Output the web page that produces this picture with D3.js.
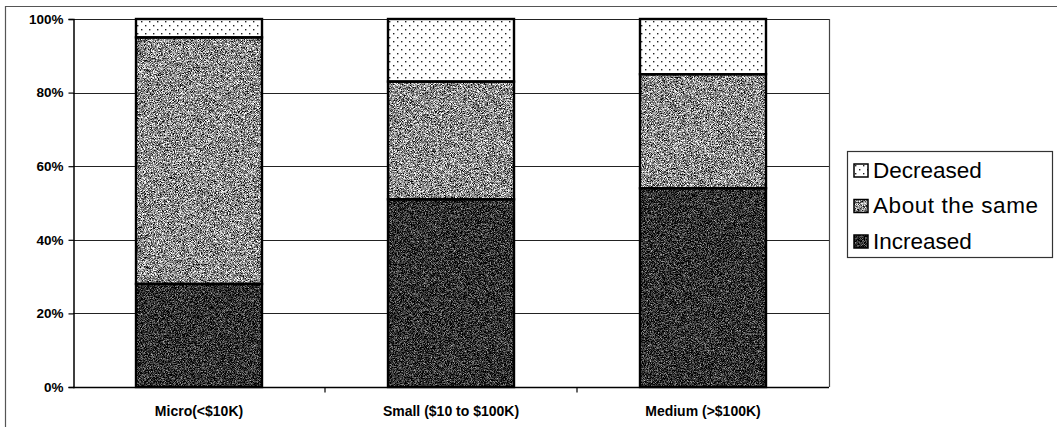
<!DOCTYPE html>
<html>
<head>
<meta charset="utf-8">
<script src="https://cdn.jsdelivr.net/npm/d3@7"></script>
<style>
  html, body { margin: 0; padding: 0; background: #fff; }
  svg { display: block; }
  text { font-family: "Liberation Sans", Arial, sans-serif; fill: #000; }
</style>
</head>
<body>
<svg id="chart" width="1057" height="427"></svg>
<script>
// Business size groups and share of responses in each (percent)
const categories = ["Micro(<$10K)", "Small ($10 to $100K)", "Medium (>$100K)"];
const seriesNames = ["Increased", "About the same", "Decreased"];
const increased = [28, 51, 54];
const aboutSame = [67, 32, 31];
const decreased = [5, 17, 15];
const yTicks = [0, 20, 40, 60, 80, 100];

const svg = d3.select("#chart");
const W = 1057, H = 427;
const plot = { left: 73, right: 829, top: 19, bottom: 387 };

// textures: dotted for "Decreased", speckled greys for the others
const defs = svg.append("defs");
const dots = defs.append("pattern").attr("id", "dots")
  .attr("patternUnits", "userSpaceOnUse").attr("width", 8).attr("height", 8);
dots.append("rect").attr("width", 8).attr("height", 8).attr("fill", "#fff");
dots.append("rect").attr("x", 1).attr("y", 1).attr("width", 1.4).attr("height", 1.4).attr("fill", "#222");
dots.append("rect").attr("x", 5).attr("y", 5).attr("width", 1.4).attr("height", 1.4).attr("fill", "#222");

function speckle(id, base, k) {
  const f = defs.append("filter").attr("id", id)
    .attr("filterUnits", "objectBoundingBox")
    .attr("color-interpolation-filters", "sRGB")
    .attr("x", 0).attr("y", 0).attr("width", 1).attr("height", 1);
  f.append("feTurbulence").attr("type", "fractalNoise")
    .attr("baseFrequency", 1.3).attr("numOctaves", 2).attr("seed", 7).attr("result", "noise");
  const off = base - k * 0.5;
  f.append("feColorMatrix").attr("in", "noise").attr("type", "matrix")
    .attr("values", `${k} 0 0 0 ${off}  ${k} 0 0 0 ${off}  ${k} 0 0 0 ${off}  0 0 0 0 1`)
    .attr("result", "grain");
  f.append("feComposite").attr("in", "grain").attr("in2", "SourceGraphic").attr("operator", "in");
}
speckle("speckLight", 0.55, 2.4);
speckle("speckDark", 0.19, 1.6);

const fills = {
  "Increased": { fill: "#333", filter: "url(#speckDark)" },
  "About the same": { fill: "#8f8f8f", filter: "url(#speckLight)" },
  "Decreased": { fill: "url(#dots)", filter: null }
};

// outer chart frame
svg.append("path").attr("d", `M5.5,${H} V6.5 H${W}`)
  .attr("fill", "none").attr("stroke", "#555").attr("stroke-width", 1.2);

const x = d3.scaleBand().domain(categories).range([plot.left, plot.right]).paddingInner(0.5).paddingOuter(0.25);
const y = d3.scaleLinear().domain([0, 100]).range([plot.bottom, plot.top]);

// gridlines
svg.append("g").selectAll("line").data(yTicks.filter(t => t > 0)).join("line")
  .attr("x1", plot.left).attr("x2", plot.right)
  .attr("y1", d => Math.round(y(d)) + 0.5).attr("y2", d => Math.round(y(d)) + 0.5)
  .attr("stroke", "#222").attr("stroke-width", 1);

// plot area right edge
svg.append("line").attr("x1", plot.right + 0.5).attr("x2", plot.right + 0.5)
  .attr("y1", plot.top).attr("y2", plot.bottom).attr("stroke", "#444").attr("stroke-width", 1.2);

// stacked bars: textured fill, then the outline on top
const rows = categories.map((c, i) => ({ cat: c, "Increased": increased[i], "About the same": aboutSame[i], "Decreased": decreased[i] }));
const stack = d3.stack().keys(seriesNames)(rows);
const segs = stack.flatMap(layer => layer.map(v => ({ key: layer.key, v })));
const bars = svg.append("g");
bars.selectAll("rect.fill").data(segs).join("rect").attr("class", "fill")
  .attr("x", d => x(d.v.data.cat))
  .attr("width", x.bandwidth())
  .attr("y", d => y(d.v[1]))
  .attr("height", d => y(d.v[0]) - y(d.v[1]))
  .attr("fill", d => fills[d.key].fill)
  .attr("filter", d => fills[d.key].filter);
bars.selectAll("rect.edge").data(segs).join("rect").attr("class", "edge")
  .attr("x", d => x(d.v.data.cat))
  .attr("width", x.bandwidth())
  .attr("y", d => y(d.v[1]))
  .attr("height", d => y(d.v[0]) - y(d.v[1]))
  .attr("fill", "none")
  .attr("stroke", "#000").attr("stroke-width", 2.4);

// y axis
const yAxis = svg.append("g").attr("transform", `translate(${plot.left + 0.5},0)`)
  .call(d3.axisLeft(y).tickValues(yTicks).tickFormat(d => d + "%").tickSize(5).tickPadding(5));
yAxis.select(".domain").attr("stroke", "#000").attr("stroke-width", 1.5);
yAxis.selectAll(".tick line").attr("stroke", "#000").attr("stroke-width", 1.2);
yAxis.selectAll(".tick text").style("font-size", "13.5px").style("font-weight", "bold")
  .style("font-family", "'Liberation Sans', Arial, sans-serif").attr("fill", "#000");

// x axis with ticks between categories
const xAxis = svg.append("g").attr("transform", `translate(0,${plot.bottom + 0.5})`);
xAxis.append("line").attr("x1", plot.left).attr("x2", plot.right)
  .attr("stroke", "#000").attr("stroke-width", 1.5);
const step = x.step();
const boundaries = categories.slice(0, -1).map(c => x(c) + x.bandwidth() + (step - x.bandwidth()) / 2);
xAxis.selectAll("line.sep").data(boundaries).join("line").attr("class", "sep")
  .attr("x1", d => d).attr("x2", d => d).attr("y1", 0).attr("y2", 5)
  .attr("stroke", "#000").attr("stroke-width", 1.2);
xAxis.selectAll("text").data(categories).join("text")
  .attr("x", d => x(d) + x.bandwidth() / 2).attr("y", 28)
  .attr("text-anchor", "middle").style("font-size", "14px").style("font-weight", "bold")
  .text(d => d);

// legend
const legend = svg.append("g");
legend.append("rect").attr("x", 847.5).attr("y", 151.5).attr("width", 205).attr("height", 106)
  .attr("fill", "#fff").attr("stroke", "#333").attr("stroke-width", 1.2);
const legendOrder = ["Decreased", "About the same", "Increased"];
const li = legend.selectAll("g.item").data(legendOrder).join("g").attr("class", "item")
  .attr("transform", (d, i) => `translate(854,${164 + i * 35.5})`);
li.append("rect").attr("width", 14).attr("height", 13)
  .attr("fill", d => fills[d].fill).attr("filter", d => fills[d].filter);
li.append("rect").attr("width", 14).attr("height", 13)
  .attr("fill", "none").attr("stroke", "#000").attr("stroke-width", 1.5);
li.append("text").attr("x", 19).attr("y", 13.5).style("font-size", "22.5px")
  .attr("textLength", d => d === "About the same" ? 165 : null)
  .text(d => d);
</script>
</body>
</html>
